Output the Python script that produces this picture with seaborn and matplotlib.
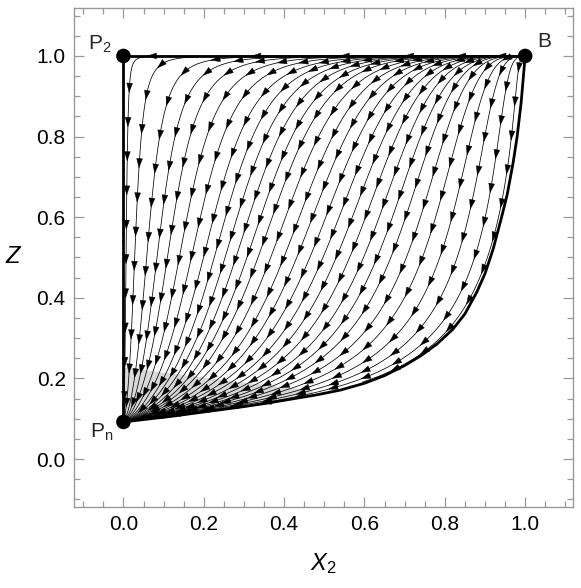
import numpy as np
import matplotlib
matplotlib.use("Agg")
import matplotlib.pyplot as plt
import seaborn as sns
from matplotlib.patches import FancyArrowPatch
from matplotlib.ticker import MultipleLocator

# lower boundary Z(X2) (from Pn up to B)
curve_x = [0.0, 0.06, 0.12, 0.18, 0.24, 0.30, 0.36, 0.42, 0.48, 0.54, 0.60, 0.65, 0.70,
           0.74, 0.78, 0.82, 0.85, 0.88, 0.90, 0.92, 0.94, 0.955, 0.97, 0.98, 0.99, 1.0]
curve_z = [0.092, 0.099, 0.106, 0.114, 0.122, 0.130, 0.139, 0.149, 0.159, 0.171, 0.188, 0.207, 0.232,
           0.256, 0.285, 0.322, 0.36, 0.415, 0.46, 0.52, 0.595, 0.655, 0.735, 0.80, 0.885, 1.0]

# shaded basin near Pn
shade_x = [0.0, 0.12, 0.24, 0.36, 0.47]
shade_top = [0.228, 0.213, 0.198, 0.184, 0.171]
shade_bot = [0.092, 0.106, 0.122, 0.139, 0.157]

# where the streamlines cross Z = 0.593
seed_x = [0.0075, 0.032, 0.066, 0.095, 0.124, 0.157, 0.19, 0.223, 0.252, 0.281, 0.31,
          0.339, 0.368, 0.401, 0.435, 0.468, 0.501, 0.534, 0.567, 0.6, 0.634, 0.667,
          0.7, 0.737, 0.775, 0.816, 0.857, 0.899, 0.932]
seed_z = 0.593

# arrows sitting on the top edge
top_arrow_x = [0.07, 0.33, 0.55, 0.71, 0.84, 0.94]

# fixed points
pts_x = [0.0, 1.0, 0.0]
pts_z = [1.0, 1.0, 0.092]
pts_lab = [r"$\mathrm{P}_2$", "B", r"$\mathrm{P}_\mathrm{n}$"]

# rates of the flow in (X2, s) coordinates, s = position between lower curve and top
rate_x = 1.0
rate_s0 = 1.4
rate_s1 = 1.6
rate_mid = 3.0

sns.set_style("ticks")
plt.rcParams["font.family"] = ["Liberation Sans", "DejaVu Sans"]
plt.rcParams["mathtext.fontset"] = "custom"
plt.rcParams["mathtext.rm"] = "Liberation Sans"
plt.rcParams["mathtext.it"] = "Liberation Sans:italic"

# smooth version of the boundary for the vector field
coef = np.polyfit(curve_x, 1 / np.array(curve_z), 4)
dcoef = np.polyder(coef)

n = 401
gx = np.linspace(0, 1, n)
gz = np.linspace(0, 1, n)
X, Z = np.meshgrid(gx, gz)
with np.errstate(all="ignore"):
    F = 1 / np.polyval(coef, X)
    dF = -np.polyval(dcoef, X) * F ** 2
    S = (Z - F) / (1 - F)
    dx = -rate_x * X * (1 - X)
    ds = -S * (1 - S) * (rate_s0 + rate_s1 * S + rate_mid * S * (1 - S))
    dz = dF * dx * (1 - S) + ds * (1 - F)
bad = ~np.isfinite(S) | (S < -1e-9) | (S > 1 + 1e-9)
U = np.ma.array(np.nan_to_num(dx), mask=bad)
V = np.ma.array(np.nan_to_num(dz), mask=bad)

fig = plt.figure(figsize=(5.81, 5.88), dpi=100)
ax = fig.add_axes([0.1274, 0.1378, 0.8588, 0.8486])

ax.fill_between(shade_x, shade_bot, shade_top, color="#d9d9d9", lw=0, zorder=1)

starts = np.column_stack([seed_x, np.full(len(seed_x), seed_z)])
sp = ax.streamplot(gx, gz, U, V, start_points=starts, broken_streamlines=False,
                   density=3, color="k", linewidth=0.55, arrowstyle="-", zorder=2)
for p in list(ax.patches):
    if isinstance(p, FancyArrowPatch):
        p.remove()


def head(x0, y0, x1, y1):
    ax.add_patch(FancyArrowPatch((x0, y0), (x1, y1),
                                 arrowstyle="-|>,head_length=0.65,head_width=0.21",
                                 mutation_scale=10, color="k", lw=0.3,
                                 shrinkA=0, shrinkB=0, zorder=3))


# arrowheads at regular spacing along every streamline
step = 0.085
for i, seg in enumerate(sp.lines.get_segments()):
    if len(seg) < 3:
        continue
    d = np.hypot(np.diff(seg[:, 0]), np.diff(seg[:, 1]))
    arc = np.concatenate([[0], np.cumsum(d)])
    total = arc[-1]
    phase = (i * 0.37) % 1 * step
    for a in np.arange(phase, total - 0.02, step):
        x0 = np.interp(a - 0.004, arc, seg[:, 0])
        y0 = np.interp(a - 0.004, arc, seg[:, 1])
        x1 = np.interp(a + 0.012, arc, seg[:, 0])
        y1 = np.interp(a + 0.012, arc, seg[:, 1])
        if y1 > 0.99 or x1 > 0.99:
            continue
        if np.hypot(x1 - pts_x[2], y1 - pts_z[2]) < 0.03:
            continue
        head(x0, y0, x1, y1)

for x in top_arrow_x:
    head(x + 0.004, 1.0, x - 0.012, 1.0)

# boundaries
sns.lineplot(x=curve_x, y=curve_z, color="k", lw=2, ax=ax, sort=False, estimator=None, zorder=4)
sns.lineplot(x=[0, 1], y=[1, 1], color="k", lw=2, ax=ax, sort=False, estimator=None, zorder=4)
sns.lineplot(x=[0, 0], y=[pts_z[2], 1], color="k", lw=2, ax=ax, sort=False, estimator=None, zorder=4)
sns.scatterplot(x=pts_x, y=pts_z, color="k", s=110, ax=ax, zorder=5, edgecolor="none")

offs = [(-0.058, 0.03), (0.048, 0.035), (-0.055, -0.026)]
for x, z, lab, (ox, oz) in zip(pts_x, pts_z, pts_lab, offs):
    ax.text(x + ox, z + oz, lab, fontsize=15, ha="center", va="center")

ax.set_xlim(-0.123, 1.119)
ax.set_ylim(-0.119, 1.119)
ax.xaxis.set_major_locator(MultipleLocator(0.2))
ax.xaxis.set_minor_locator(MultipleLocator(0.05))
ax.yaxis.set_major_locator(MultipleLocator(0.2))
ax.yaxis.set_minor_locator(MultipleLocator(0.05))
ax.tick_params(which="both", direction="in", top=True, right=True, color="#999999",
               labelcolor="k", labelsize=15, width=0.9)
ax.tick_params(which="major", length=7, pad=6)
ax.tick_params(which="minor", length=4)
for sd in ax.spines.values():
    sd.set_color("#999999")
    sd.set_linewidth(1)
ax.set_xlabel(r"$X_2$", fontsize=17, labelpad=12, color="k")
ax.set_ylabel(r"$Z$", fontsize=17, rotation=0, labelpad=16, va="center", color="k")

fig.savefig("out.png", dpi=100)
